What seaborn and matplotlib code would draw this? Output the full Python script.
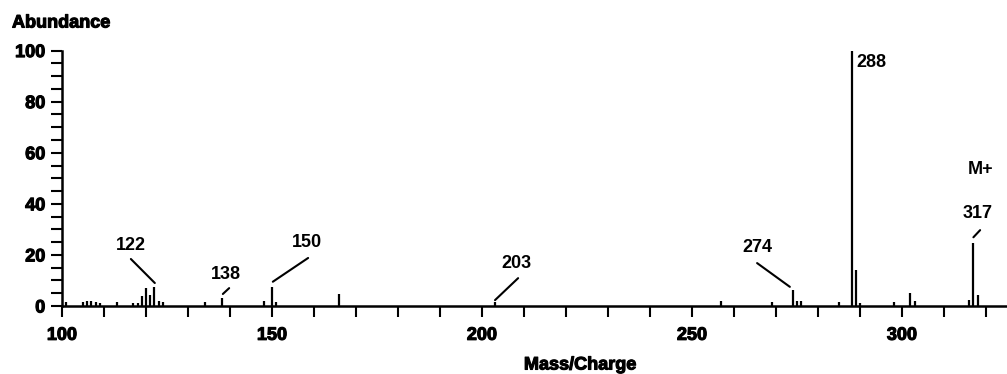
import matplotlib
matplotlib.use("Agg")
import matplotlib.pyplot as plt
import matplotlib.patheffects as pe
import seaborn as sns
import pandas as pd
from matplotlib.ticker import MultipleLocator

# peak list (m/z, relative abundance %)
mz = [101, 105, 106, 107, 108, 109, 113, 117, 118, 119, 120, 121, 122, 123,
      124, 134, 138, 148, 150, 151, 166, 203, 257, 269, 274, 275, 276, 285,
      288, 289, 290, 298, 302, 303, 316, 317, 318]
abundance = [1.7, 1.5, 2.0, 1.8, 1.5, 1.2, 1.5, 1.0, 1.2, 4.0, 7.0, 4.5, 7.5, 2.0,
             1.5, 1.5, 3.0, 2.0, 7.5, 1.5, 4.7, 1.5, 2.0, 1.5, 6.4, 2.0, 2.0, 1.5,
             100.0, 14.0, 1.0, 1.5, 5.0, 2.0, 2.5, 24.5, 4.5]

# labelled peaks: text, text position, leader line start and end
label_text = ["122", "138", "150", "203", "274", "317"]
label_pos = [(116.4, 23.5), (139.0, 12.5), (158.3, 25.0), (208.3, 16.8), (265.6, 23.0), (317.9, 36.2)]
leader_from = [(116.4, 18.4), (139.8, 7.0), (158.6, 18.8), (208.6, 10.9), (265.5, 16.8), (318.6, 29.7)]
leader_to = [(122.1, 9.0), (138.3, 4.7), (150.2, 9.5), (203.1, 2.3), (273.3, 7.5), (317.0, 26.9)]

df = pd.DataFrame({"mz": mz, "abundance": abundance})

sns.set_style("ticks")
plt.rcParams["font.family"] = ["Liberation Sans", "DejaVu Sans"]
plt.rcParams["text.color"] = "black"
plt.rcParams["xtick.color"] = "black"
plt.rcParams["ytick.color"] = "black"

heavy = [pe.withStroke(linewidth=0.8, foreground="black")]

fig = plt.figure(figsize=(10.07, 3.74), dpi=100)
ax = fig.add_axes([62 / 1007, 1 - 306 / 374, 1 - 62 / 1007, 258 / 374])

ax.vlines(df["mz"], 0, df["abundance"], color="black", lw=1.6)

ax.set_xlim(100, 325)
ax.set_ylim(0, 101)
sns.despine(ax=ax)
ax.spines["left"].set_bounds(0, 100)
for s in ["left", "bottom"]:
    ax.spines[s].set_linewidth(1.8)
    ax.spines[s].set_color("black")

ax.xaxis.set_major_locator(MultipleLocator(50))
ax.xaxis.set_minor_locator(MultipleLocator(10))
ax.yaxis.set_major_locator(MultipleLocator(20))
ax.yaxis.set_minor_locator(MultipleLocator(5))
ax.tick_params(axis="both", which="both", direction="out", length=8, width=1.5, color="black")
ax.tick_params(axis="x", which="major", pad=7)
ax.tick_params(axis="y", which="major", pad=4)
for lab in ax.get_xticklabels() + ax.get_yticklabels():
    lab.set_fontsize(13)
    lab.set_fontweight("bold")
    lab.set_path_effects(heavy)

for t, p, a, b in zip(label_text, label_pos, leader_from, leader_to):
    ax.text(p[0], p[1], t, fontsize=13, fontweight="bold", ha="center", va="center")
    ax.plot([a[0], b[0]], [a[1], b[1]], color="black", lw=1.5)

ax.text(292.8, 95.4, "288", fontsize=13, fontweight="bold", ha="center", va="center")
ax.text(318.6, 53.5, "M+", fontsize=13, fontweight="bold", ha="center", va="center")

fig.text(12 / 1007, 1 - 23 / 374, "Abundance", fontsize=13, fontweight="bold",
         va="center", path_effects=heavy)
fig.text(580 / 1007, 1 - 365 / 374, "Mass/Charge", fontsize=13, fontweight="bold",
         ha="center", va="center", path_effects=heavy)

fig.savefig("out.png", dpi=100)
